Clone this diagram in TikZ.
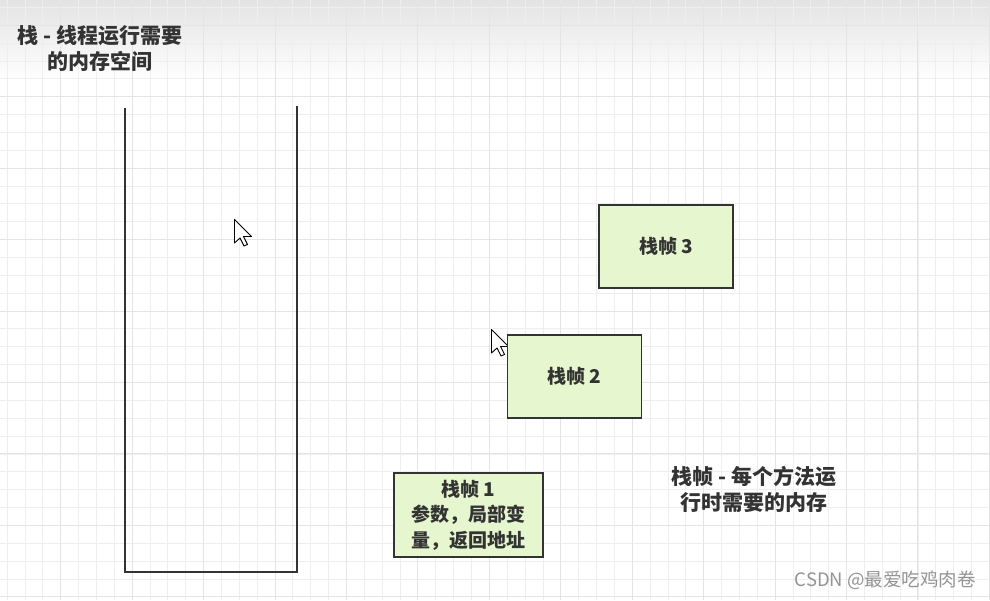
\documentclass[tikz,border=0pt]{standalone}
\usepackage{fontspec}
\newfontfamily\cjk{Noto Sans CJK SC}
\usetikzlibrary{positioning}
\definecolor{framefill}{RGB}{230,246,206}
\definecolor{ink}{RGB}{51,51,51}
\definecolor{gridminor}{RGB}{238,238,238}
\definecolor{gridmajor}{RGB}{228,228,228}

\begin{document}
\begin{tikzpicture}[x=1pt,y=-1pt,
    words/.style={font=\cjk\bfseries\fontsize{21}{26}\selectfont, text=ink, align=center, inner sep=0pt},
    frame/.style={draw=ink, line width=1.6pt, fill=framefill, minimum width=134pt, minimum height=83pt,
      inner sep=0pt, align=center, text=ink, font=\cjk\bfseries\fontsize{19}{25.5}\selectfont},
    wall/.style={draw=ink, line width=2pt},
    pointer/.style={draw=black, fill=white, line width=0.9pt, line join=round}]
  \useasboundingbox (0,0) rectangle (990,600);
  \fill[white] (0,0) rectangle (990,600);
  \shade[top color=black!11, bottom color=white] (0,0) rectangle (990,80);
  % grid
  \foreach \i in {0,...,55} {\draw[gridminor, line width=0.8pt] ({7.1+17.86*\i},0) -- ++(0,600);}
  \foreach \i in {0,...,33} {\draw[gridminor, line width=0.8pt] (0,{7.4+17.86*\i}) -- ++(990,0);}
  \foreach \i in {0,...,13} {\draw[gridmajor, line width=0.8pt] ({60.7+71.43*\i},0) -- ++(0,600);}
  \foreach \i in {0,...,8} {\draw[gridmajor, line width=0.8pt] (0,{25.3+71.43*\i}) -- ++(990,0);}

  % the stack
  \coordinate (topL) at (125,108);
  \coordinate (botL) at (125,572);
  \coordinate (botR) at (297,572);
  \coordinate (topR) at (297,106);
  \draw[wall] (topL) -- (botL) -- (botR) -- (topR);
  \node[words] (stack) at (100,48) {栈 - 线程运行需要\\的内存空间};

  % mouse pointers
  \foreach \p in {(234.5,219.5),(491.5,329.5)}
    \draw[pointer] \p -- ++(0,23.5) -- ++(5.5,-5) -- ++(4,8) -- ++(3.5,-1.5) -- ++(-4,-8) -- ++(8,0) -- cycle;

  % frames
  \node[frame] (frame3) at (666,246.5) {栈帧 3};
  \node[frame] (frame2) at (574.5,376.5) {栈帧 2};
  \node[frame, minimum width=149pt, minimum height=84pt] (frame1) at (468.5,515) {栈帧 1\\参数，局部变\\量，返回地址};
  \node[words] (frameNote) at (754,489) {栈帧 - 每个方法运\\行时需要的内存};

  \node[font=\cjk\fontsize{18.5}{22}\selectfont, text=black!42, anchor=east, inner sep=0pt] (mark) at (976,580) {CSDN @最爱吃鸡肉卷};
\end{tikzpicture}
\end{document}
